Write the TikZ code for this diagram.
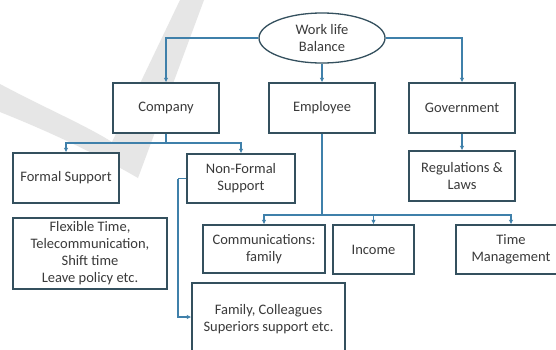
\documentclass[tikz,border=0pt]{standalone}
\usepackage{fontspec}
\setmainfont{Carlito}
\usetikzlibrary{arrows.meta,shapes.geometric}
\definecolor{linkblue}{HTML}{3F80AA}
\definecolor{boxedge}{HTML}{34505E}
\definecolor{inkgray}{HTML}{3A3A3A}
\definecolor{markgray}{HTML}{E6E6E6}
\tikzset{
  box/.style={draw=boxedge, line width=1.3pt, fill=white, align=center,
    text=inkgray, font=\fontsize{14.5}{17}\selectfont, inner sep=2pt},
  oval/.style={box, ellipse},
  link/.style={draw=linkblue, line width=1.2pt,
    -{Latex[length=4.5pt,width=4.5pt]}},
  plainlink/.style={draw=linkblue, line width=1.2pt},
}
\begin{document}
\begin{tikzpicture}[x=1pt,y=-1pt]
\useasboundingbox (0,0) rectangle (556,349);
\clip (0,0) rectangle (556,349);
\fill[white] (0,0) rectangle (556,349);
% background check mark
\fill[markgray] (0,84) .. controls (45,108) and (85,125) .. (112,142)
  -- (180,0) -- (204,0) -- (138,178)
  .. controls (90,150) and (40,128) .. (0,112) -- cycle;

% nodes
\node[oval, minimum width=126, minimum height=50] (wlb) at (322,38) {Work life\\Balance};
\node[box, minimum width=106, minimum height=50] (company) at (166,108) {Company};
\node[box, minimum width=106, minimum height=50] (employee) at (322,108) {Employee};
\node[box, minimum width=106, minimum height=50] (government) at (462,108) {Government};
\node[box, minimum width=106, minimum height=50] (formal) at (66,178) {Formal Support};
\node[box, minimum width=108, minimum height=49] (nonformal) at (241,178.5) {Non-Formal\\Support};
\node[box, minimum width=106, minimum height=50] (regs) at (462,176) {Regulations \&\\Laws};
\node[box, minimum width=154, minimum height=71] (flex) at (90,253.5) {Flexible Time,\\Telecommunication,\\Shift time\\Leave policy etc.};
\node[box, minimum width=122, minimum height=48] (comm) at (264,249) {Communications:\\family};
\node[box, minimum width=81, minimum height=49] (income) at (373.5,249.5) {Income};
\node[box, minimum width=110, minimum height=49] (timem) at (511,249.5) {Time\\Management};
\node[box, minimum width=153, minimum height=72] (family) at (268.5,319) {Family, Colleagues\\Superiors support etc.};

% coordinates of the branch points
\coordinate (cbranch) at (166,143);
\coordinate (ebranch) at (322,215);
\coordinate (nbend) at (178,178.5);

% connectors
\draw[link] (wlb.west) -| (company.north);
\draw[link] (wlb.east) -| (government.north);
\draw[link] (wlb.south) -- (employee.north);
\draw[plainlink] (company.south) -- (cbranch);
\draw[link] (cbranch) -| (formal.north);
\draw[link] (cbranch) -| (nonformal.north);
\draw[link] (government.south) -- (regs.north);
\draw[plainlink] (employee.south) -- (ebranch);
\draw[link] (ebranch) -| (comm.north);
\draw[link] (ebranch) -| (income.north);
\draw[link] (ebranch) -| (timem.north);
\draw[plainlink] (nonformal.west) -- (nbend);
\draw[link] (nbend) |- (family.west |- 0,317);
\end{tikzpicture}
\end{document}
